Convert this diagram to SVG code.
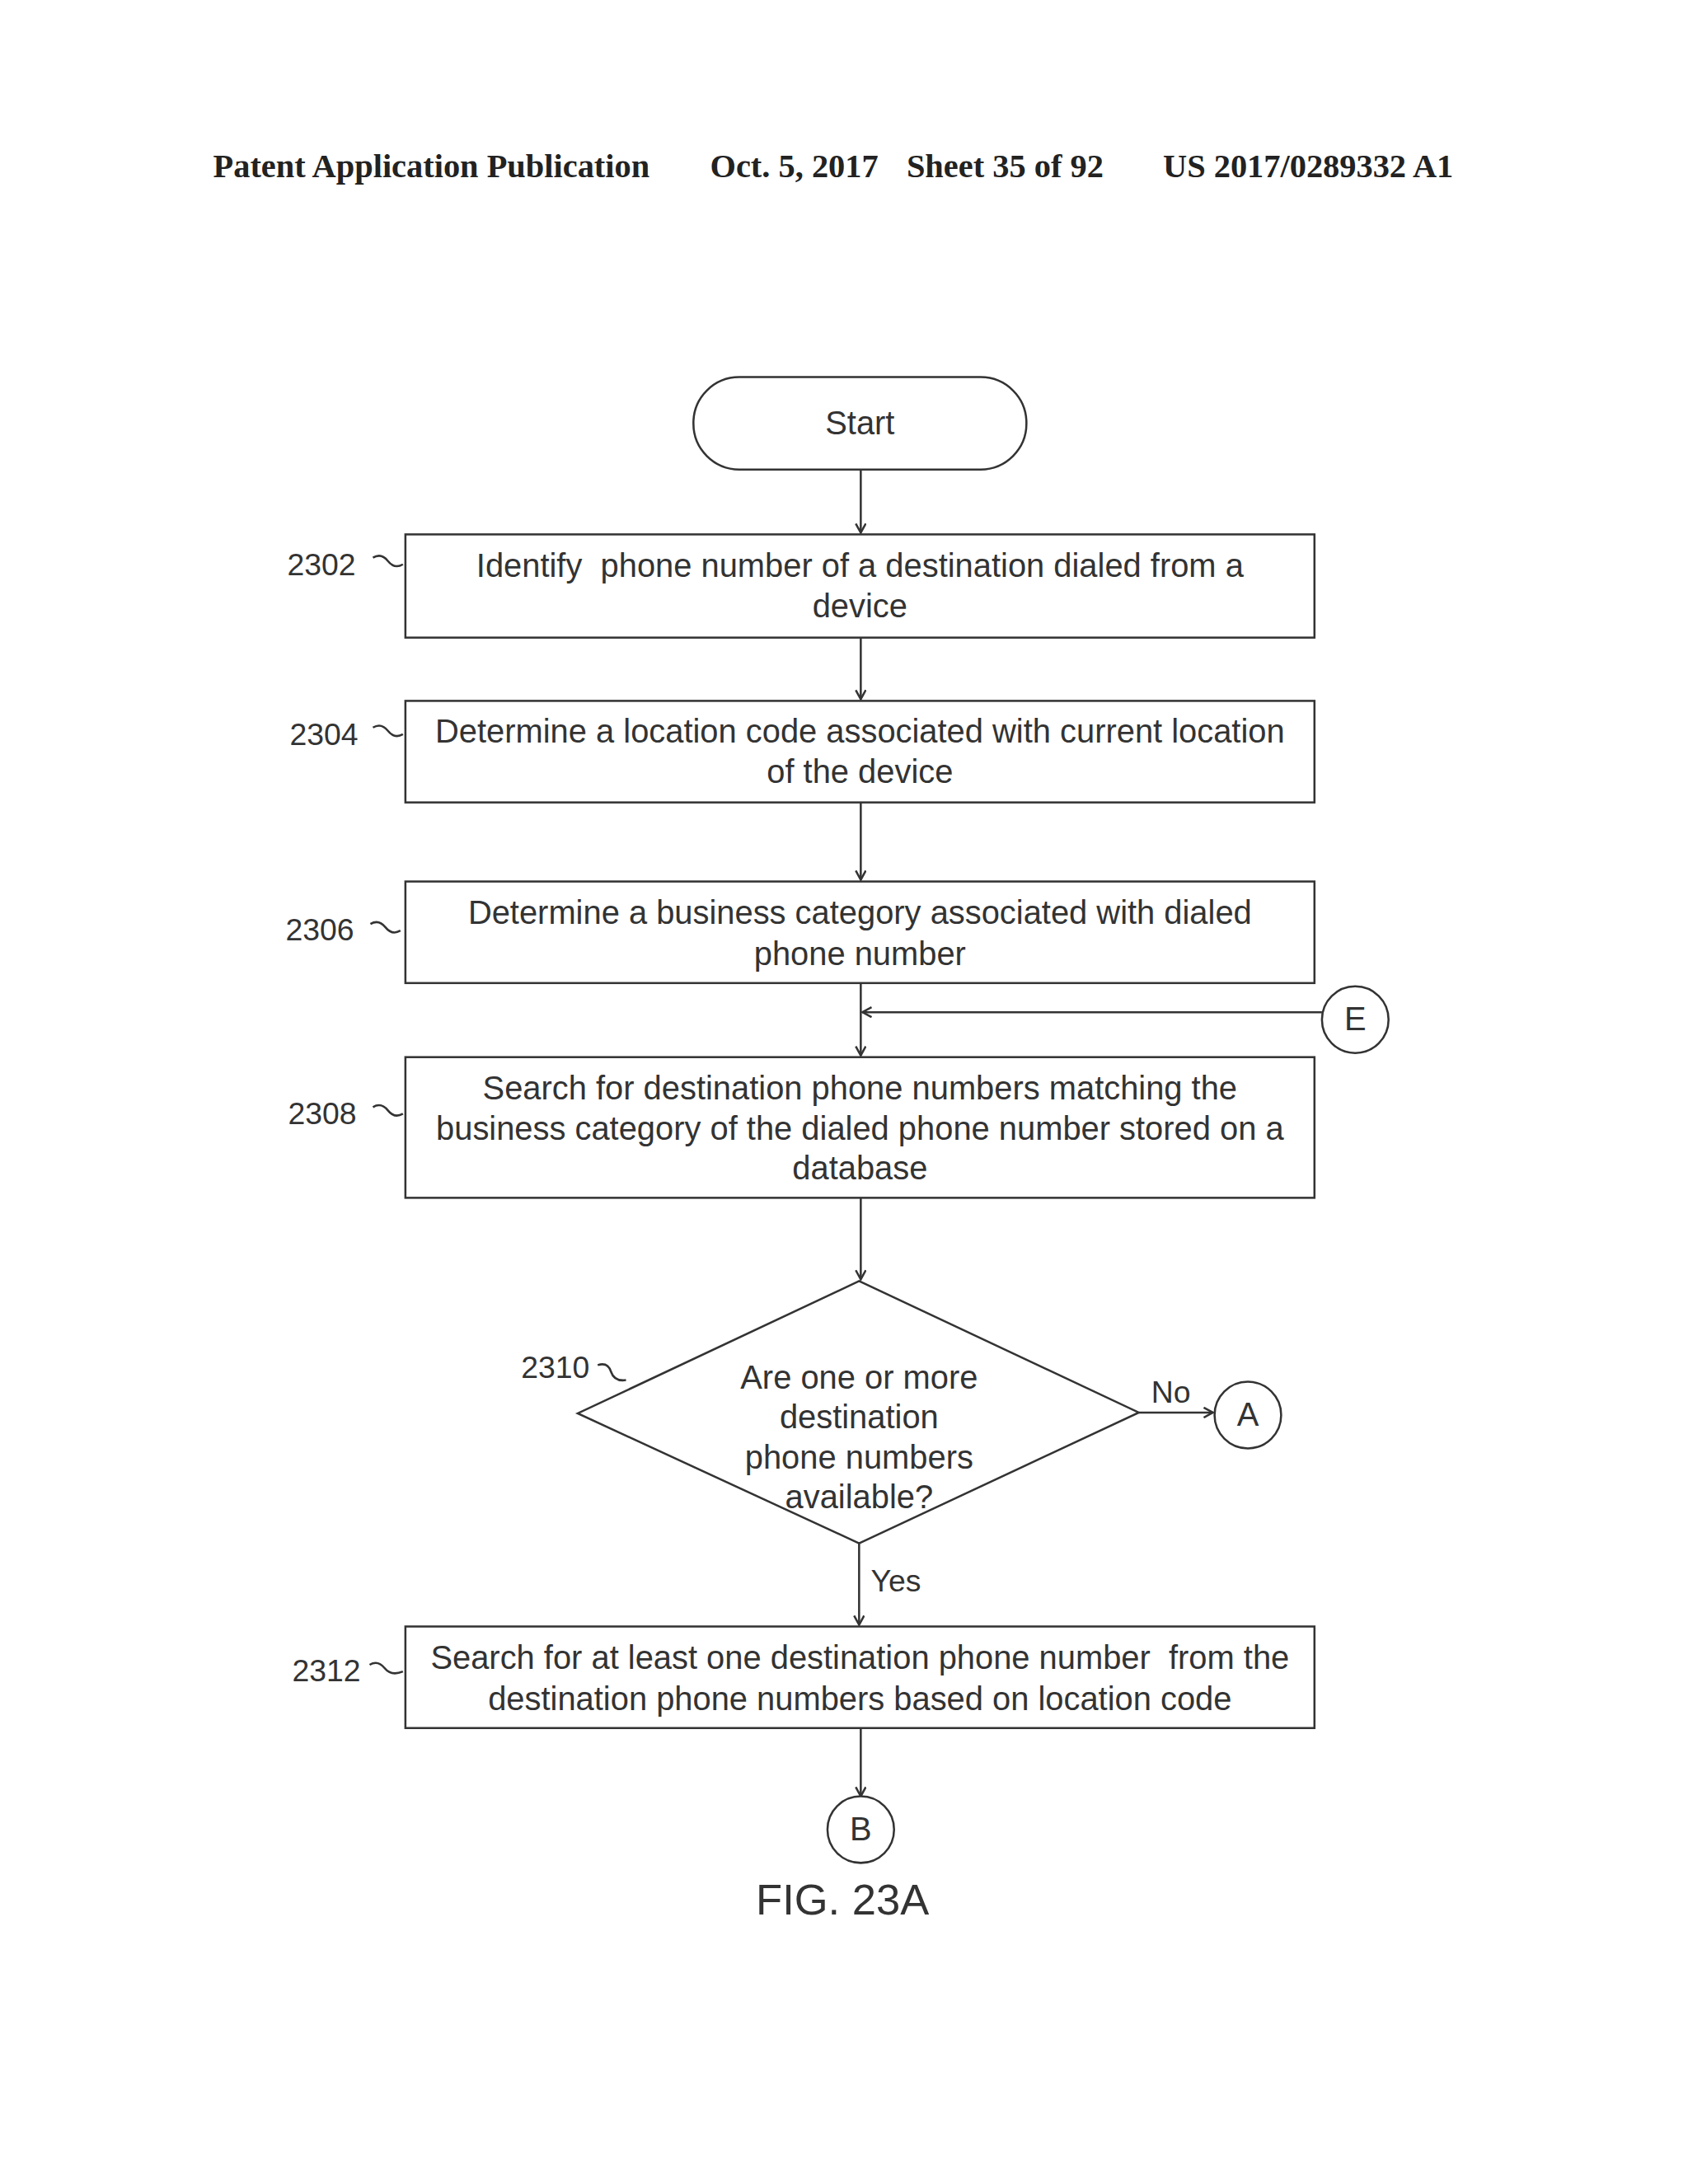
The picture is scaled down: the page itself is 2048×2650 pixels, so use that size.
<svg xmlns="http://www.w3.org/2000/svg" width="2048" height="2650" viewBox="0 0 2048 2650">
<style>
.s{fill:#fff;stroke:#333;stroke-width:2.5}
.l{fill:none;stroke:#333;stroke-width:2.5}
.t{font-family:"Liberation Sans",Arial,sans-serif;font-size:39.5px;fill:#333;text-anchor:middle}
.n{font-family:"Liberation Sans",Arial,sans-serif;font-size:37px;fill:#333}
.h{font-family:"Liberation Serif","Times New Roman",serif;font-size:40px;font-weight:bold;fill:#222}
</style>
<defs><marker id="a" markerWidth="14" markerHeight="14" refX="12" refY="7" orient="auto" markerUnits="userSpaceOnUse"><path d="M1,1 L12,7 L1,13" fill="none" stroke="#333" stroke-width="2.5"/></marker></defs>
<rect width="2048" height="2650" fill="#fff"/>
<g transform="scale(1.01)">
<text class="h" x="256" y="213">Patent Application Publication</text>
<text class="h" x="853" y="213">Oct. 5, 2017</text>
<text class="h" x="1089" y="213">Sheet 35 of 92</text>
<text class="h" x="1397" y="213">US 2017/0289332 A1</text>
<g id="connectors">
<line class="l" x1="1034" y1="564" x2="1034" y2="640" marker-end="url(#a)"/>
<line class="l" x1="1034" y1="766" x2="1034" y2="840" marker-end="url(#a)"/>
<line class="l" x1="1034" y1="964" x2="1034" y2="1057" marker-end="url(#a)"/>
<line class="l" x1="1034" y1="1181" x2="1034" y2="1268" marker-end="url(#a)"/>
<line class="l" x1="1588" y1="1216" x2="1036" y2="1216" marker-end="url(#a)"/>
<line class="l" x1="1034" y1="1439" x2="1034" y2="1537" marker-end="url(#a)"/>
<line class="l" x1="1368" y1="1697" x2="1457" y2="1697" marker-end="url(#a)"/>
<line class="l" x1="1032" y1="1854" x2="1032" y2="1952" marker-end="url(#a)"/>
<line class="l" x1="1034" y1="2076" x2="1034" y2="2158" marker-end="url(#a)"/>
<text class="n" x="1383" y="1685">No</text>
<text class="n" x="1046" y="1912">Yes</text>
</g>
<g id="start"><rect class="s" x="833" y="453" width="400" height="111" rx="55"/><text class="t" x="1033" y="522">Start</text></g>
<g id="n2302"><rect class="s" x="487" y="642" width="1092" height="124"/><text class="t" x="1033" y="693">Identify&#160; phone number of a destination dialed from a</text><text class="t" x="1033" y="742">device</text>
<text class="n" x="345" y="691">2302</text><path class="l" d="M448,670 q10,-6 18,4 q8,10 18,4"/></g>
<g id="n2304"><rect class="s" x="487" y="842" width="1092" height="122"/><text class="t" x="1033" y="892">Determine a location code associated with current location</text><text class="t" x="1033" y="941">of the device</text>
<text class="n" x="348" y="895">2304</text><path class="l" d="M448,874 q10,-6 18,4 q8,10 18,4"/></g>
<g id="n2306"><rect class="s" x="487" y="1059" width="1092" height="122"/><text class="t" x="1033" y="1110">Determine a business category associated with dialed</text><text class="t" x="1033" y="1159">phone number</text>
<text class="n" x="343" y="1130">2306</text><path class="l" d="M445,1110 q10,-6 18,4 q8,10 18,4"/></g>
<g id="E"><circle class="s" cx="1628" cy="1225" r="40"/><text class="t" x="1628" y="1238">E</text></g>
<g id="n2308"><rect class="s" x="487" y="1270" width="1092" height="169"/><text class="t" x="1033" y="1321">Search for destination phone numbers matching the</text><text class="t" x="1033" y="1369">business category of the dialed phone number stored on a</text><text class="t" x="1033" y="1417">database</text>
<text class="n" x="346" y="1350">2308</text><path class="l" d="M448,1330 q10,-6 18,4 q8,10 18,4"/></g>
<g id="n2310"><polygon class="s" points="1032,1539 1368,1697 1032,1854 694,1698"/><text class="t" x="1032" y="1668">Are one or more</text><text class="t" x="1032" y="1716">destination</text><text class="t" x="1032" y="1764">phone numbers</text><text class="t" x="1032" y="1812">available?</text>
<text class="n" x="626" y="1655">2310</text><path class="l" d="M718,1640 q12,-4 16,8 q4,12 18,10"/></g>
<g id="A"><circle class="s" cx="1499" cy="1700" r="40"/><text class="t" x="1499" y="1713">A</text></g>
<g id="n2312"><rect class="s" x="487" y="1954" width="1092" height="122"/><text class="t" x="1033" y="2005">Search for at least one destination phone number&#160; from the</text><text class="t" x="1033" y="2054">destination phone numbers based on location code</text>
<text class="n" x="351" y="2020">2312</text><path class="l" d="M444,2000 q10,-6 18,4 q8,10 22,4"/></g>
<g id="B"><circle class="s" cx="1034" cy="2198" r="40"/><text class="t" x="1034" y="2211">B</text></g>
<text x="1012" y="2300" font-family="Liberation Sans,Arial,sans-serif" font-size="52" fill="#333" text-anchor="middle">FIG. 23A</text>
</g>
</svg>
